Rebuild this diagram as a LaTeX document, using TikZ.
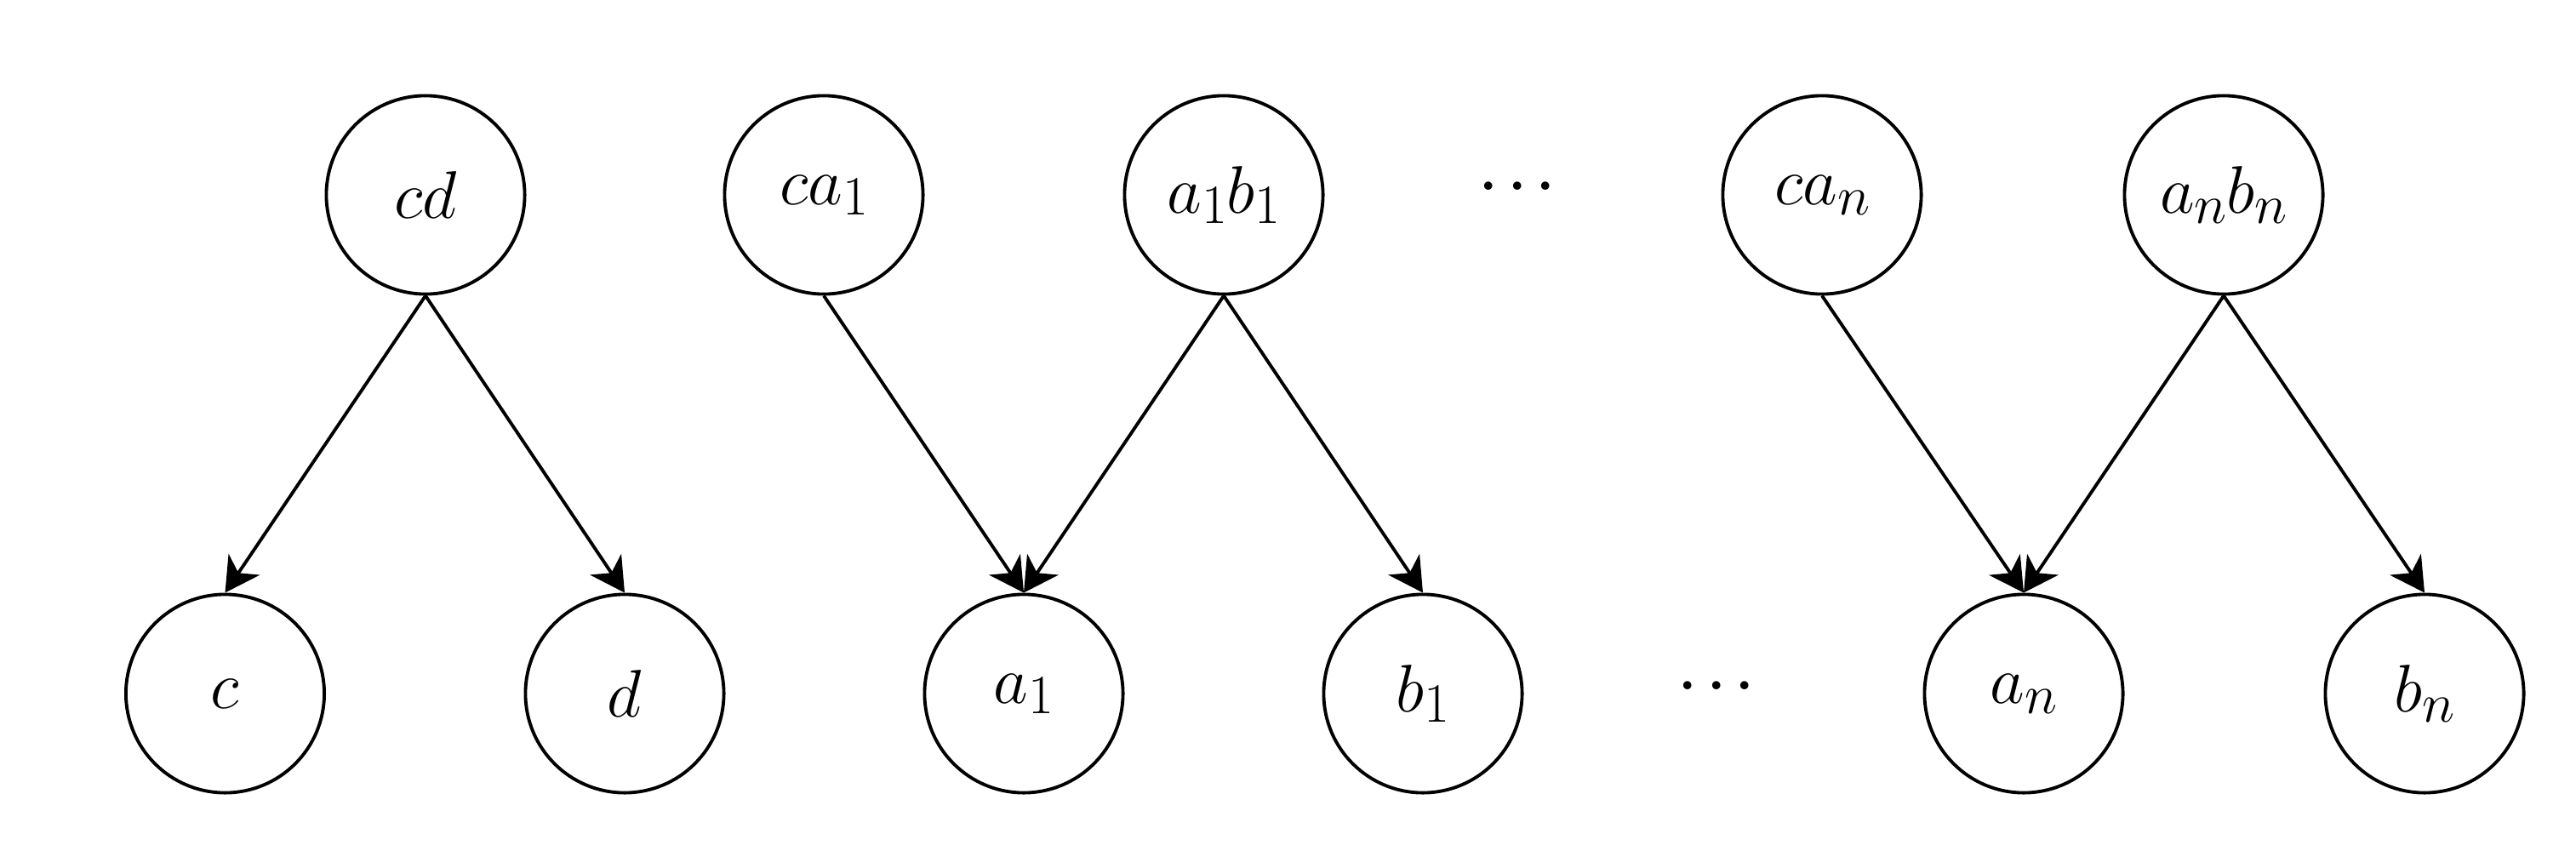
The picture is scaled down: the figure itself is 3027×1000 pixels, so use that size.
\documentclass[tikz,border=0pt]{standalone}
\usepackage{fix-cm}
\usetikzlibrary{arrows.meta}
\newcommand\sbx[1]{\lower3.4pt\hbox{\fontsize{18.5}{18.5}\selectfont$#1$}}
\newcommand\threedots{${\cdot}\hskip2.4pt{\cdot}\hskip2.4pt{\cdot}$}
\begin{document}
\begin{tikzpicture}[x=0.01cm,y=-0.01cm,
  vnode/.style={circle,draw,line width=1.1pt,minimum size=2.33cm,inner sep=0pt,
    font=\fontsize{22.5}{22.5}\selectfont},
  edge/.style={line width=1.1pt,-{Stealth[length=0.4cm,width=0.44cm,inset=0.12cm]}},
  dotsnode/.style={inner sep=0pt,font=\fontsize{26}{26}\selectfont}]
\useasboundingbox (0,0) rectangle (3027,1000);
\node[vnode] (cd)   at (500,229)  {$cd$};
\node[vnode] (c)    at (264.5,815) {$c$};
\node[vnode] (d)    at (734,815)  {$d$};
\node[vnode] (ca1)  at (968,229)  {$ca\sbx{1}$};
\node[vnode] (a1b1) at (1438,229) {$a\sbx{1}b\sbx{1}$};
\node[vnode] (a1)   at (1203,815) {$a\sbx{1}$};
\node[vnode] (b1)   at (1672,815) {$b\sbx{1}$};
\node[vnode] (can)  at (2141,229) {$ca\sbx{n}$};
\node[vnode] (anbn) at (2613,229) {$a\sbx{n}b\sbx{n}$};
\node[vnode] (an)   at (2378,815) {$a\sbx{n}$};
\node[vnode] (bn)   at (2849,815) {$b\sbx{n}$};
\node[dotsnode] (dtop) at (1783,221) {\threedots};
\node[dotsnode] (dbot) at (2017,808) {\threedots};
\draw[edge] (cd.south) -- (c.north);
\draw[edge] (cd.south) -- (d.north);
\draw[edge] (ca1.south) -- (a1.north);
\draw[edge] (a1b1.south) -- (a1.north);
\draw[edge] (a1b1.south) -- (b1.north);
\draw[edge] (can.south) -- (an.north);
\draw[edge] (anbn.south) -- (an.north);
\draw[edge] (anbn.south) -- (bn.north);
\end{tikzpicture}
\end{document}
